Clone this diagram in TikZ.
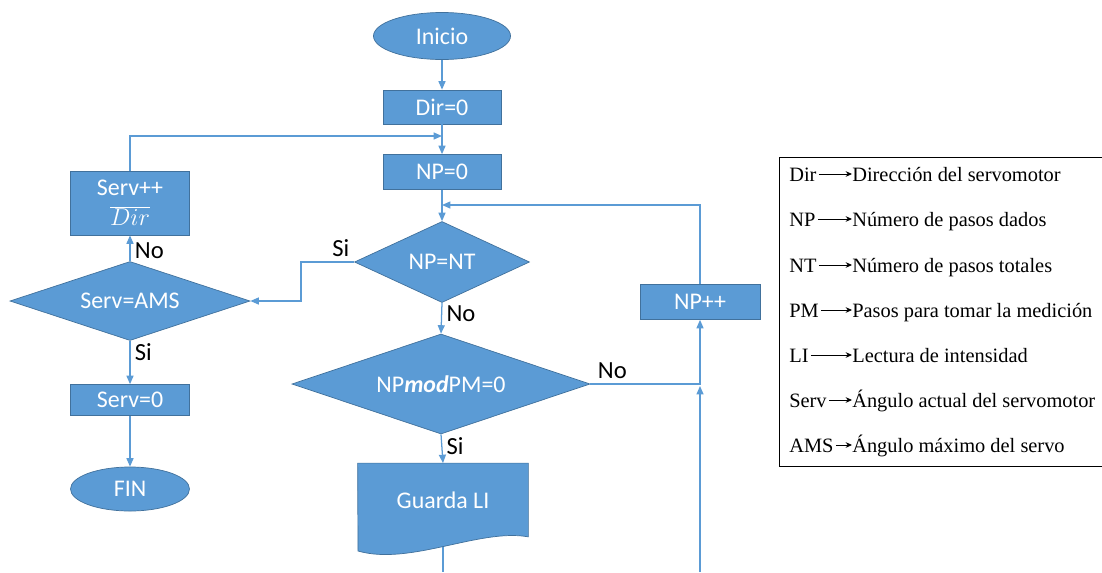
\documentclass[tikz,border=0pt]{standalone}
\usepackage{fontspec}
\setmainfont{Carlito}
\newfontfamily\legendfont{Liberation Serif}
\usetikzlibrary{shapes.geometric,arrows.meta,backgrounds}
\definecolor{boxblue}{HTML}{5B9BD5}
\definecolor{boxedge}{HTML}{41719C}
\definecolor{lineblue}{HTML}{5B9BD5}
\tikzset{
  base/.style={fill=boxblue, draw=boxedge, line width=0.5pt, text=white,
    font=\fontsize{17}{20}\selectfont, inner sep=0pt},
  proc/.style={base, rectangle},
  term/.style={base, ellipse},
  decision/.style={base, diamond},
  flow/.style={draw=lineblue, line width=0.9pt, -{Triangle[length=6pt,width=5pt]}},
  plain/.style={draw=lineblue, line width=0.9pt},
  lbl/.style={text=black, font=\fontsize{17.5}{20}\selectfont, inner sep=3pt},
  abbr/.style={font=\legendfont\fontsize{14.5}{17}\selectfont, inner sep=0pt,
    anchor=west, text height=13pt, text depth=3pt}
}
\newcommand{\legenditem}[4]{
\node[abbr] (#1) at (789,#4) {#2};
\node[abbr] (#1d) at (852,#4) {#3};
\draw[-{Stealth[length=4.5pt,width=4pt]}, line width=0.6pt, shorten <=1.5pt] (#1) -- (#1d);
}

\begin{document}
\begin{tikzpicture}[x=0.025cm, y=-0.025cm]
\useasboundingbox (0,0) rectangle (1102,572);

\node[term, minimum width=3.425cm, minimum height=1.175cm] (inicio) at (442,36) {Inicio};
\node[proc, minimum width=2.95cm, minimum height=0.85cm] (dir) at (442,107) {Dir=0};
\node[proc, minimum width=2.95cm, minimum height=0.875cm] (np0) at (442,172) {NP=0};
\node[decision, aspect=2.16, minimum width=4.375cm, minimum height=2.025cm] (npnt) at (442,262) {NP=NT};
\node[decision, aspect=2.98, minimum width=7.45cm, minimum height=2.5cm] (mod) at (441,384) {NP\textbf{\textit{mod}}PM=0};
\node[base, fill=none, draw=none, minimum width=4.25cm, minimum height=1.825cm] (guarda) at (443,500) {Guarda LI};
\node[proc, minimum width=3cm, minimum height=0.875cm] (npinc) at (700,302) {NP++};
\node[proc, minimum width=2.975cm, minimum height=1.6cm, align=center] (servinc) at (130,203) {Serv++\\[1pt]$\overline{Dir}$};
\node[decision, aspect=3.04, minimum width=6cm, minimum height=1.975cm] (servams) at (130,301) {Serv=AMS};
\node[proc, minimum width=2.975cm, minimum height=0.775cm] (serv0) at (130,400) {Serv=0};
\node[term, minimum width=2.975cm, minimum height=1.1cm] (fin) at (130,489) {FIN};

\coordinate (j1) at (442,136);
\coordinate (j2) at (442,205);
\coordinate (j3) at (700,386);
\coordinate (b1) at (443,572);
\coordinate (b2) at (700,572);

\begin{scope}[on background layer]
\draw[plain] (guarda.south) -- (b1);
\filldraw[fill=boxblue, draw=boxedge, line width=0.5pt] (guarda.north west) -- (guarda.north east) -- (guarda.south east)
  .. controls (480,528) and (410,566) .. (358,551) -- cycle;
\end{scope}

\draw[flow] (inicio) -- (dir);
\draw[flow] (dir) -- (np0);
\draw[flow] (servinc.north) |- (j1);
\draw[flow] (np0) -- (npnt);
\draw[flow] (npinc.north) |- (j2);
\draw[flow] (npnt.west) node[lbl, above left] {Si} -- ++(-53,0) |- (servams.east);
\draw[flow] (servams.north) -- node[lbl, right, pos=0.4] {No} (servinc.south);
\draw[flow] (servams.south) -- node[lbl, right, pos=0.25] {Si} (serv0.north);
\draw[flow] (serv0) -- (fin);
\draw[flow] (npnt.south) -- node[lbl, right, pos=0.35] {No} (mod.north);
\draw[flow] (mod.south) -- node[lbl, right, pos=0.4] {Si} (guarda.north);
\draw[flow] (mod.east) -| node[lbl, above, pos=0.1] {No} (npinc.south);
\draw[flow] (b2) -- (j3);

\node[draw=black, line width=0.7pt, minimum width=8.05cm, minimum height=7.7cm, inner sep=0pt] (legend) at (941,312) {};
\legenditem{dirl}{Dir}{Dirección del servomotor}{174}
\legenditem{npl}{NP}{Número de pasos dados}{219}
\legenditem{ntl}{NT}{Número de pasos totales}{265}
\legenditem{pml}{PM}{Pasos para tomar la medición}{310}
\legenditem{lil}{LI}{Lectura de intensidad}{355}
\legenditem{servl}{Serv}{Ángulo actual del servomotor}{400}
\legenditem{amsl}{AMS}{Ángulo máximo del servo}{445}

\end{tikzpicture}
\end{document}
